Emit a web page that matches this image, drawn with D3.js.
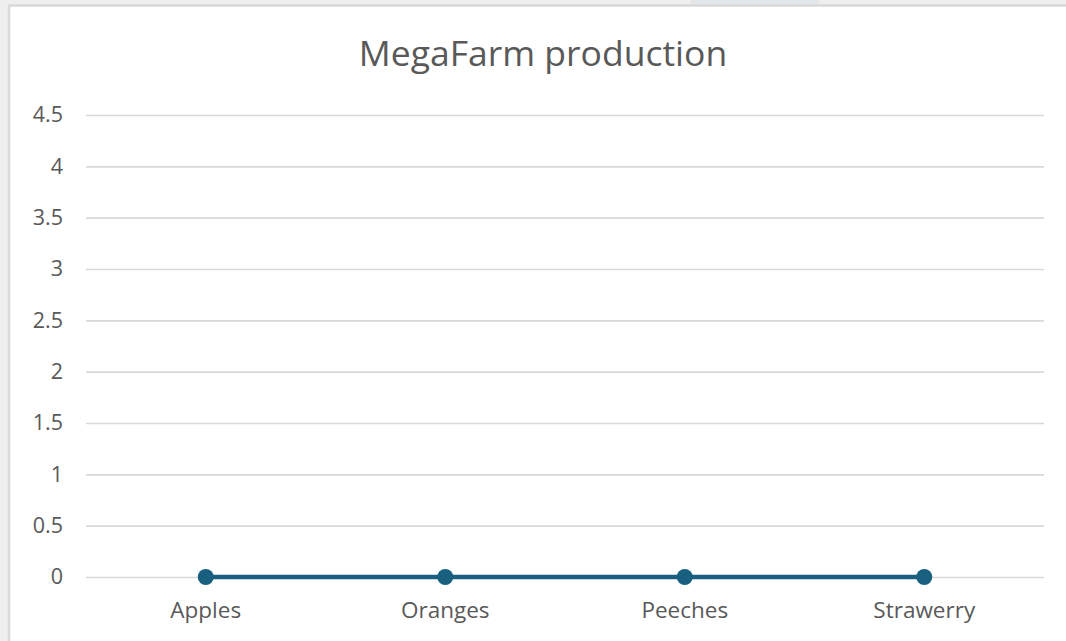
<!DOCTYPE html>
<html>
<head>
<meta charset="utf-8">
<script src="https://cdn.jsdelivr.net/npm/d3@7"></script>
<style>
  html, body { margin: 0; padding: 0; background: #efefef; overflow: hidden; }
  svg { display: block; font-family: "Open Sans", "Noto Sans", sans-serif; }
</style>
</head>
<body>
<div id="chart"></div>
<script>
// chart data
const categories = ["Apples", "Oranges", "Peeches", "Strawerry"];
const production = [0, 0, 0, 0];
const yTicks = [0, 0.5, 1, 1.5, 2, 2.5, 3, 3.5, 4, 4.5];
const chartTitle = "MegaFarm production";

const W = 1066, H = 641;
const margin = {top: 115, right: 22, bottom: 64, left: 86},
  width = 1044 - margin.left,
  height = 577 - margin.top;

const svg = d3.select("#chart")
  .append("svg")
  .attr("width", W)
  .attr("height", H);

// small tab peeking above the chart card
svg.append("rect")
  .attr("x", 690).attr("y", -10)
  .attr("width", 130).attr("height", 15)
  .attr("rx", 6)
  .attr("fill", "#e4e7ea");

// chart card with light border
svg.append("rect")
  .attr("x", 9).attr("y", 5.5)
  .attr("width", W + 20).attr("height", H + 20)
  .attr("fill", "#ffffff")
  .attr("stroke", "#d9d9d9")
  .attr("stroke-width", 2.5);

// title
svg.append("text")
  .attr("x", 543).attr("y", 66)
  .attr("text-anchor", "middle")
  .attr("fill", "#595959")
  .attr("font-size", 35.5)
  .text(chartTitle);

const g = svg.append("g")
  .attr("transform", `translate(${margin.left},${margin.top})`);

// scales
const x = d3.scaleBand()
  .domain(categories)
  .range([0, width]);

const y = d3.scaleLinear()
  .domain([0, 4.5])
  .range([height, 0]);

// Y axis with gridlines
const yAxis = g.append("g")
  .call(d3.axisLeft(y)
    .tickValues(yTicks)
    .tickSize(-width)
    .tickPadding(23)
    .tickFormat(d3.format("~g")));
yAxis.select(".domain").remove();
yAxis.selectAll(".tick line")
  .attr("stroke", "#d9d9d9")
  .attr("stroke-width", 1.6);
yAxis.selectAll(".tick text")
  .attr("fill", "#595959")
  .attr("font-size", 21.5)
  .attr("font-family", "\"Open Sans\", sans-serif");

// X axis labels
const xAxis = g.append("g")
  .attr("transform", `translate(0,${height})`)
  .call(d3.axisBottom(x).tickSize(0).tickPadding(25));
xAxis.select(".domain").remove();
xAxis.selectAll(".tick text")
  .attr("fill", "#595959")
  .attr("font-size", 22.5)
  .attr("font-family", "\"Open Sans\", sans-serif");

// line
const pts = categories.map((c, i) => ({cat: c, value: production[i]}));
g.append("path")
  .datum(pts)
  .attr("fill", "none")
  .attr("stroke", "#185f80")
  .attr("stroke-width", 4.5)
  .attr("d", d3.line()
    .x(d => x(d.cat) + x.bandwidth() / 2)
    .y(d => y(d.value)));

// markers
g.selectAll("circle.pt")
  .data(pts)
  .join("circle")
  .attr("class", "pt")
  .attr("cx", d => x(d.cat) + x.bandwidth() / 2)
  .attr("cy", d => y(d.value))
  .attr("r", 8)
  .attr("fill", "#185f80");
</script>
</body>
</html>
